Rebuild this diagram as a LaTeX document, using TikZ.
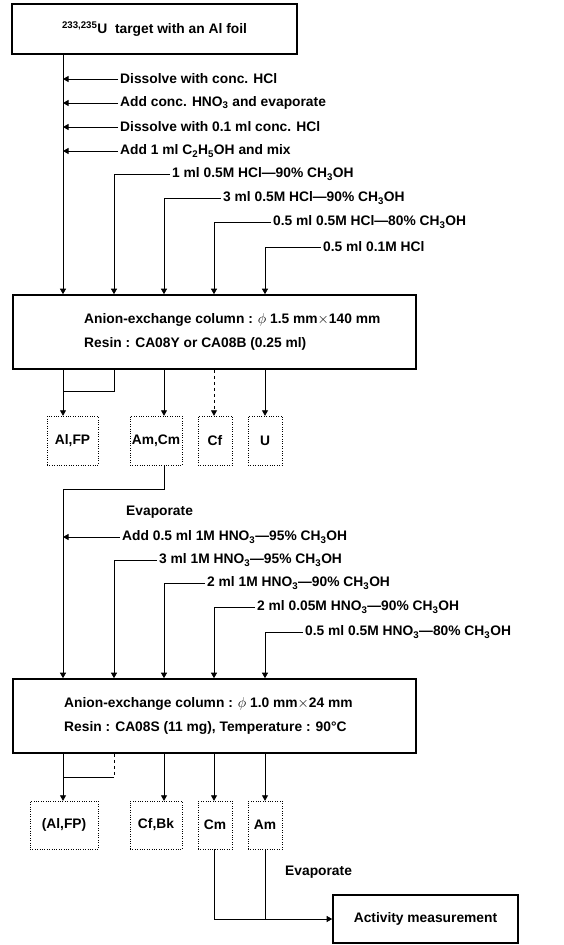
\documentclass[tikz,border=0pt]{standalone}
\usepackage{fontspec}
\setmainfont{Liberation Sans}
\usetikzlibrary{positioning,arrows.meta}

\begin{document}
\begin{tikzpicture}[
    x=1pt,y=-1pt,
    every node/.style={font=\fontsize{13.8}{16}\selectfont\bfseries},
    bigbox/.style={rectangle,draw,line width=1.6pt,minimum width=403,minimum height=74},
    coltext/.style={anchor=west,align=left,inner sep=0pt,
                    font=\fontsize{13.8}{24}\selectfont\bfseries},
    frac/.style={rectangle,draw,dotted,thin,minimum height=49,inner sep=0pt},
    reag/.style={anchor=west,inner xsep=2pt,inner ysep=0pt},
    arrow/.style={-{Triangle[length=5.5pt,width=6pt]},line width=0.8pt},
    line/.style={line width=0.8pt}
]
\useasboundingbox (0,0) rectangle (563,945);
\coordinate (c0) at (63,0);
\coordinate (c1) at (114,0);
\coordinate (c2) at (164,0);
\coordinate (c3) at (214,0);
\coordinate (c4) at (265,0);

\node[rectangle,draw,line width=2pt,minimum width=285,minimum height=50] (target) at (154.5,29)
     {\textsuperscript{233,235}U\ \ target with an Al foil};

\node[reag] (r1) at (118,79)  {Dissolve with conc. HCl};
\node[reag] (r2) at (118,103) {Add conc. HNO\textsubscript{3} and evaporate};
\node[reag] (r3) at (118,127) {Dissolve with 0.1 ml conc. HCl};
\node[reag] (r4) at (118,151) {Add 1 ml C\textsubscript{2}H\textsubscript{5}OH and mix};
\node[reag] (r5) at (170,174) {1 ml 0.5M HCl---90\% CH\textsubscript{3}OH};
\node[reag] (r6) at (221,198) {3 ml 0.5M HCl---90\% CH\textsubscript{3}OH};
\node[reag] (r7) at (271,222) {0.5 ml 0.5M HCl---80\% CH\textsubscript{3}OH};
\node[reag] (r8) at (321,247) {0.5 ml 0.1M HCl};

\node[bigbox] (col1) at (214.5,332) {};
\node[coltext] (col1txt) at (84,332)
     {Anion-exchange column : $\phi$ 1.5 mm$\times$140 mm\\Resin : CA08Y or CA08B (0.25 ml)};

\node[frac,minimum width=51] (alfp1) at (72.5,440.5) {Al,FP};
\node[frac,minimum width=52] (amcm1) at (156,440.5)  {Am,Cm};
\node[frac,minimum width=34] (cf1)   at (215,440.5)  {Cf};
\node[frac,minimum width=34] (u1)    at (265,440.5)  {U};

\node[reag] (ev1) at (124,512) {Evaporate};
\node[reag] (s1) at (120,537) {Add 0.5 ml 1M HNO\textsubscript{3}---95\% CH\textsubscript{3}OH};
\node[reag] (s2) at (157,560) {3 ml 1M HNO\textsubscript{3}---95\% CH\textsubscript{3}OH};
\node[reag] (s3) at (205,583) {2 ml 1M HNO\textsubscript{3}---90\% CH\textsubscript{3}OH};
\node[reag] (s4) at (255,607) {2 ml 0.05M HNO\textsubscript{3}---90\% CH\textsubscript{3}OH};
\node[reag] (s5) at (303,632) {0.5 ml 0.5M HNO\textsubscript{3}---80\% CH\textsubscript{3}OH};

\node[bigbox] (col2) at (214.5,716) {};
\node[coltext] (col2txt) at (64,716)
     {Anion-exchange column : $\phi$ 1.0 mm$\times$24 mm\\Resin : CA08S (11 mg), Temperature : 90°C};

\node[frac,minimum width=68,minimum height=48] (alfp2) at (64,825)  {(Al,FP)};
\node[frac,minimum width=52,minimum height=48] (cfbk2) at (156,825) {Cf,Bk};
\node[frac,minimum width=34,minimum height=48] (cm2)   at (215,825) {Cm};
\node[frac,minimum width=34,minimum height=48] (am2)   at (265,825) {Am};

\node[reag] (ev2) at (283,872) {Evaporate};
\node[rectangle,draw,line width=1.6pt,minimum width=185,minimum height=48] (act) at (425.5,919)
     {Activity measurement};

\coordinate (j1) at (63,391);
\coordinate (j2) at (63,489);
\coordinate (j3) at (63,777);

\draw[arrow] (c0 |- target.south) -- (c0 |- col1.north);
\foreach \r in {r1,r2,r3,r4}
    \draw[arrow] (\r.west) -- (\r.west -| c0);
\foreach \r/\c in {r5/c1,r6/c2,r7/c3,r8/c4}
    \draw[arrow] (\r.west) -| (\c |- col1.north);

\draw[line] (c1 |- col1.south) |- (j1);
\draw[arrow] (c0 |- col1.south) -- (c0 |- alfp1.north);
\draw[arrow] (c2 |- col1.south) -- (c2 |- amcm1.north);
\draw[arrow,dashed] (c3 |- col1.south) -- (c3 |- cf1.north);
\draw[arrow] (c4 |- col1.south) -- (c4 |- u1.north);

\draw[arrow] (c2 |- amcm1.south) |- (j2) -- (c0 |- col2.north);
\draw[arrow] (s1.west) -- (s1.west -| c0);
\foreach \s/\c in {s2/c1,s3/c2,s4/c3,s5/c4}
    \draw[arrow] (\s.west) -| (\c |- col2.north);

\draw[line,dashed] (c1 |- col2.south) -- (c1 |- j3);
\draw[line] (c1 |- j3) -- (j3);
\draw[arrow] (c0 |- col2.south) -- (c0 |- alfp2.north);
\draw[arrow] (c2 |- col2.south) -- (c2 |- cfbk2.north);
\draw[arrow] (c3 |- col2.south) -- (c3 |- cm2.north);
\draw[arrow] (c4 |- col2.south) -- (c4 |- am2.north);

\draw[arrow] (c3 |- cm2.south) |- (act.west);
\draw[line] (c4 |- am2.south) -- (c4 |- act.west);
\end{tikzpicture}
\end{document}
